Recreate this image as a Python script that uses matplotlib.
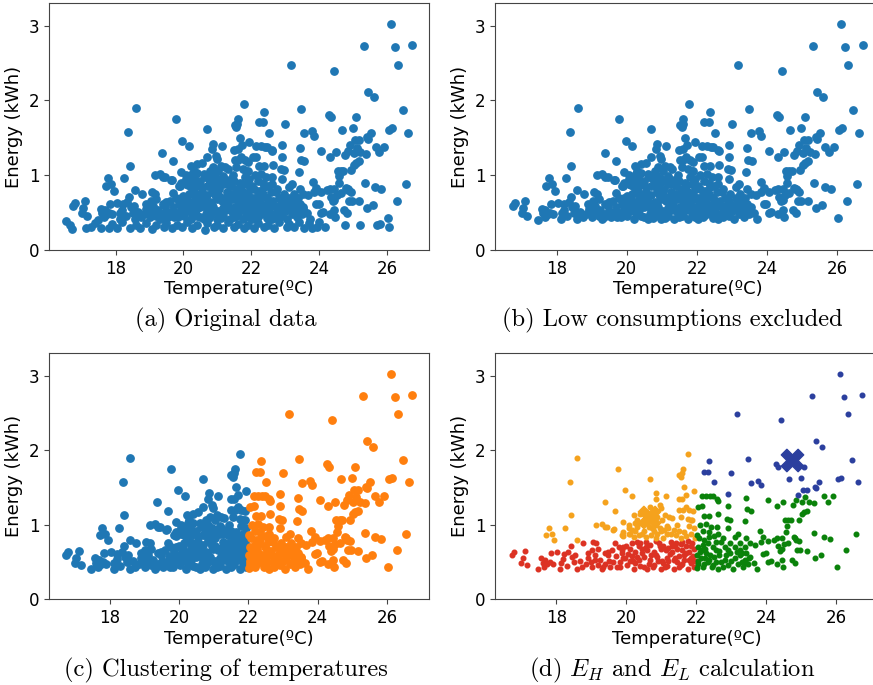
"""
Four scatter panels of daily energy use against mean temperature:
raw data, low consumptions removed, temperature clustering and
the high / low energy clusters with their centroids.
"""
import matplotlib

matplotlib.use("Agg")
from matplotlib import pyplot as plt

# Points with energy below the exclusion limit (only drawn in panel a)
EXCLUDED_TEMP = [
    16.55, 16.65, 16.72, 17.13, 17.28, 17.57, 17.80, 18.05, 18.44, 18.73,
    19.08, 19.42, 19.67, 19.96, 20.26, 20.62, 20.90, 21.15, 21.49, 21.78,
    22.07, 22.37, 22.66, 23.06, 23.25, 23.54, 23.79, 23.94, 24.18, 24.77,
    25.21, 25.70, 25.80, 26.05, 17.40, 17.90, 18.20, 18.60, 18.90, 19.20,
    19.50, 19.80, 20.10, 20.40, 20.70, 21.00, 21.30, 21.60, 21.90, 22.20,
    22.50, 22.80, 23.10, 23.40, 23.70, 24.00,
]
EXCLUDED_ENERGY = [
    0.39, 0.33, 0.28, 0.29, 0.31, 0.29, 0.29, 0.29, 0.29, 0.29,
    0.28, 0.31, 0.29, 0.31, 0.29, 0.27, 0.31, 0.29, 0.31, 0.29,
    0.29, 0.31, 0.29, 0.31, 0.31, 0.29, 0.29, 0.31, 0.31, 0.33,
    0.33, 0.33, 0.35, 0.31, 0.36, 0.35, 0.37, 0.34, 0.36, 0.33,
    0.36, 0.34, 0.37, 0.34, 0.36, 0.33, 0.37, 0.35, 0.33, 0.36,
    0.34, 0.37, 0.35, 0.38, 0.36, 0.38,
]

# Cold days (< 22 ºC), low energy cluster
COLD_LOW_TEMP = [
    16.75, 16.80, 17.00, 17.11, 17.16, 17.04, 17.47, 17.57, 17.61, 17.68,
    17.74, 17.66, 17.81, 17.85, 17.90, 18.03, 18.14, 18.12, 18.22, 18.35,
    18.41, 18.45, 18.53, 18.58, 18.67, 18.74, 18.84, 18.91, 18.77, 19.06,
    19.15, 19.03, 19.10, 19.10, 19.20, 19.01, 19.30, 19.25, 19.39, 19.47,
    19.54, 19.63, 19.73, 19.83, 19.92, 19.39, 19.49, 19.68, 19.78, 19.87,
    19.92, 18.30, 18.50, 18.90, 19.20, 19.50, 19.70, 19.00, 18.20, 19.35,
    19.60, 20.31, 20.40, 20.55, 20.69, 20.93, 21.27, 21.41, 21.60, 21.75,
    21.89, 19.87, 20.11, 20.26, 20.45, 20.60, 20.79, 20.98, 21.13, 21.32,
    21.46, 21.60, 21.80, 21.94, 19.97, 20.16, 20.36, 20.50, 20.69, 20.88,
    21.03, 21.17, 21.36, 21.51, 21.65, 21.84, 21.96, 19.83, 20.02, 20.21,
    20.40, 20.60, 20.79, 20.98, 21.17, 21.36, 21.56, 21.75, 21.94, 20.05,
    20.25, 20.45, 20.65, 20.85, 21.05, 21.25, 21.45, 21.65, 21.85, 20.00,
    20.20, 20.55, 20.75, 20.95, 21.10, 21.30, 21.50, 21.70, 21.90, 20.15,
    20.35, 20.85, 21.05, 21.20, 21.40, 21.55, 21.70, 21.85, 20.70, 20.90,
    21.20, 21.40, 21.60, 21.80, 20.30, 20.50, 20.10,
]
COLD_LOW_ENERGY = [
    0.59, 0.63, 0.49, 0.65, 0.46, 0.56, 0.40, 0.55, 0.49, 0.53,
    0.48, 0.44, 0.50, 0.62, 0.48, 0.63, 0.49, 0.41, 0.61, 0.64,
    0.71, 0.57, 0.59, 0.41, 0.51, 0.44, 0.48, 0.55, 0.75, 0.77,
    0.75, 0.66, 0.59, 0.53, 0.46, 0.44, 0.41, 0.53, 0.48, 0.59,
    0.44, 0.50, 0.44, 0.50, 0.55, 0.62, 0.64, 0.76, 0.70, 0.62,
    0.70, 0.45, 0.50, 0.62, 0.68, 0.52, 0.58, 0.50, 0.54, 0.44,
    0.66, 0.77, 0.75, 0.77, 0.73, 0.75, 0.77, 0.75, 0.77, 0.78,
    0.75, 0.66, 0.68, 0.64, 0.68, 0.66, 0.64, 0.68, 0.66, 0.64,
    0.68, 0.66, 0.64, 0.68, 0.55, 0.58, 0.53, 0.57, 0.53, 0.57,
    0.52, 0.56, 0.53, 0.58, 0.53, 0.56, 0.52, 0.44, 0.46, 0.41,
    0.45, 0.41, 0.46, 0.41, 0.45, 0.41, 0.46, 0.41, 0.44, 0.61,
    0.49, 0.62, 0.48, 0.60, 0.49, 0.61, 0.50, 0.60, 0.49, 0.72,
    0.52, 0.70, 0.43, 0.71, 0.43, 0.72, 0.44, 0.71, 0.58, 0.75,
    0.72, 0.78, 0.72, 0.69, 0.71, 0.74, 0.62, 0.72, 0.60, 0.51,
    0.52, 0.56, 0.47, 0.53, 0.57, 0.44, 0.52,
]

# Cold days, high energy cluster
COLD_HIGH_TEMP = [
    18.60, 18.38, 18.42, 18.26, 17.79, 17.71, 17.87, 17.95, 18.58, 19.77,
    19.97, 20.16, 19.38, 19.69, 20.69, 20.86, 20.84, 21.13, 21.56, 21.59,
    21.51, 21.61, 21.77, 21.65, 21.94, 21.50, 21.71, 20.69, 20.98, 20.40,
    20.55, 20.95, 21.22, 21.30, 21.60, 21.51, 21.61, 21.80, 21.90, 21.85,
    20.22, 20.30, 20.40, 20.07, 20.12, 19.92, 19.63, 19.15, 19.30, 19.39,
    19.46, 19.66, 19.90, 20.26, 20.31, 20.79, 20.88, 21.03, 21.17, 21.70,
    21.56, 21.75, 21.89, 20.07, 20.16, 20.07, 20.64, 20.74, 20.79, 20.84,
    20.45, 20.55, 20.98, 21.08, 21.17, 20.88, 21.65, 21.85, 21.94, 21.27,
    21.41, 19.87, 19.92, 20.21, 20.36, 20.50, 20.60, 20.70, 20.95, 21.05,
    21.20, 21.35, 21.45, 21.55, 21.70, 21.80, 21.50, 20.25, 21.10, 20.85,
    21.95,
]
COLD_HIGH_ENERGY = [
    1.90, 1.58, 1.13, 0.96, 0.96, 0.86, 0.88, 0.79, 0.80, 1.75,
    1.46, 1.39, 1.30, 1.19, 1.62, 1.42, 1.35, 1.39, 1.64, 1.69,
    1.67, 1.75, 1.95, 1.50, 1.45, 1.34, 1.40, 1.24, 1.22, 1.15,
    1.17, 1.26, 1.11, 1.09, 1.35, 1.20, 1.20, 1.20, 1.18, 1.06,
    1.13, 1.06, 1.03, 1.00, 0.87, 1.04, 0.93, 1.00, 1.01, 0.97,
    0.97, 0.94, 0.85, 1.02, 0.97, 1.06, 1.11, 1.06, 0.99, 1.24,
    1.11, 1.08, 1.06, 0.95, 0.93, 0.88, 0.97, 0.95, 0.91, 1.00,
    0.88, 0.84, 0.91, 0.93, 0.88, 0.88, 0.90, 0.88, 0.95, 0.88,
    0.86, 0.86, 0.90, 0.84, 0.86, 0.92, 1.02, 0.86, 0.96, 0.82,
    0.95, 0.93, 1.00, 0.82, 0.85, 0.98, 0.92, 0.92, 1.13, 0.82,
    0.82,
]

# Hot days (>= 22 ºC), low energy cluster
HOT_LOW_TEMP = [
    22.15, 22.28, 22.39, 22.47, 22.60, 22.62, 22.06, 22.15, 22.21, 22.36,
    22.63, 22.29, 22.60, 22.90, 22.88, 22.97, 23.42, 23.46, 23.56, 23.40,
    23.20, 24.06, 24.30, 24.49, 24.76, 24.85, 25.10, 25.03, 25.21, 25.36,
    25.66, 25.77, 25.91, 24.54, 24.63, 24.71, 24.58, 24.94, 25.02, 25.08,
    25.16, 25.35, 25.64, 25.83, 26.56, 26.29, 26.03, 25.40, 25.57, 25.16,
    24.97, 24.87, 24.83, 24.92, 24.57, 23.82, 23.91, 23.84, 23.67, 24.06,
    24.22, 24.30, 24.44, 24.63, 24.51, 24.34, 24.44, 24.39, 24.78, 24.85,
    23.43, 23.43, 23.51, 23.43, 23.64, 23.72, 23.91, 23.98, 24.06, 24.12,
    24.30, 24.44, 24.47, 24.73, 24.81, 22.42, 22.61, 22.90, 23.10, 23.24,
    22.02, 22.09, 22.23, 22.37, 22.04, 22.18, 22.33, 22.47, 22.57, 22.71,
    22.81, 22.95, 23.10, 23.24, 23.38, 23.53, 22.02, 22.13, 22.28, 22.37,
    22.52, 22.66, 22.81, 22.95, 23.10, 23.24, 23.38, 23.53, 22.04, 22.18,
    22.33, 22.47, 22.61, 22.71, 22.90, 23.05, 23.19, 23.34, 23.48, 22.05,
    22.10, 22.22, 22.40, 22.45, 22.55, 22.75, 22.85, 23.00, 23.15, 23.30,
    22.02, 22.25, 22.65, 22.10, 22.20, 22.35, 22.50, 22.75, 22.15, 22.55,
    22.90, 23.30, 22.25,
]
HOT_LOW_ENERGY = [
    1.39, 1.39, 1.38, 1.38, 1.34, 1.32, 1.24, 1.25, 1.12, 1.12,
    1.14, 1.01, 0.97, 1.25, 1.08, 1.07, 1.36, 1.21, 1.19, 1.05,
    0.88, 1.33, 1.25, 1.31, 1.27, 1.33, 1.37, 1.30, 1.31, 1.29,
    1.38, 1.31, 1.38, 1.06, 1.06, 1.06, 0.99, 1.07, 1.14, 1.17,
    1.19, 0.89, 0.84, 0.81, 0.88, 0.66, 0.43, 0.56, 0.60, 0.65,
    0.66, 0.66, 0.82, 0.78, 0.90, 0.91, 0.83, 0.77, 0.73, 0.78,
    0.80, 0.82, 0.82, 0.76, 0.74, 0.71, 0.67, 0.65, 0.83, 0.80,
    0.82, 0.62, 0.55, 0.49, 0.49, 0.41, 0.61, 0.62, 0.50, 0.51,
    0.48, 0.53, 0.44, 0.53, 0.49, 0.97, 0.88, 0.95, 0.84, 0.75,
    0.86, 0.82, 0.79, 0.84, 0.70, 0.73, 0.75, 0.70, 0.77, 0.77,
    0.70, 0.75, 0.70, 0.66, 0.70, 0.75, 0.59, 0.55, 0.62, 0.53,
    0.57, 0.59, 0.53, 0.62, 0.55, 0.59, 0.53, 0.57, 0.48, 0.44,
    0.50, 0.46, 0.41, 0.50, 0.46, 0.41, 0.48, 0.44, 0.48, 0.52,
    0.64, 0.47, 0.60, 0.43, 0.50, 0.44, 0.60, 0.52, 0.63, 0.50,
    0.42, 0.56, 0.65, 1.00, 0.92, 0.90, 0.85, 0.82, 0.66, 0.66,
    0.66, 0.62, 0.68,
]

# Hot days, high energy cluster
HOT_HIGH_TEMP = [
    26.10, 25.31, 26.22, 26.72, 26.32, 23.17, 24.42, 25.43, 25.60, 23.47,
    26.45, 22.37, 24.28, 24.33, 25.08, 22.21, 22.34, 23.00, 24.66, 24.98,
    26.06, 26.14, 22.52, 23.55, 23.77, 23.84, 25.51, 25.40, 25.42, 26.62,
    25.05, 25.17, 22.90, 24.90,
]
HOT_HIGH_ENERGY = [
    3.02, 2.73, 2.71, 2.74, 2.48, 2.48, 2.40, 2.12, 2.04, 1.88,
    1.87, 1.85, 1.81, 1.78, 1.78, 1.71, 1.71, 1.69, 1.61, 1.63,
    1.61, 1.63, 1.57, 1.56, 1.59, 1.53, 1.57, 1.51, 1.49, 1.57,
    1.47, 1.47, 1.41, 1.40,
]

# Cluster centroids shown in panel d (E_L cold, E_H hot)
CENTROID_COLD = (20.65, 1.10)
CENTROID_HOT = (24.72, 1.87)

CAPTIONS = [
    "(a) Original data",
    "(b) Low consumptions excluded",
    "(c) Clustering of temperatures",
    "(d) $E_H$ and $E_L$ calculation",
]

W, H = 873, 685

plt.rcParams["mathtext.fontset"] = "cm"
plt.rcParams["axes.edgecolor"] = "#444444"
plt.rcParams["xtick.color"] = "#444444"
plt.rcParams["ytick.color"] = "#444444"
plt.rcParams["xtick.labelcolor"] = "black"
plt.rcParams["ytick.labelcolor"] = "black"


def px_box(left, top, right, bottom):
    return [left / W, 1 - bottom / H, (right - left) / W, (bottom - top) / H]


def format_axis(ax):
    ax.set_ylim(0, 3.3)
    ax.set_yticks([0, 1, 2, 3])
    ax.set_xticks([18, 20, 22, 24, 26])
    ax.tick_params(labelsize=12)
    ax.set_xlabel("Temperature(ºC)", fontsize=13, labelpad=2)
    ax.set_ylabel("Energy (kWh)", fontsize=13, labelpad=4)


fig = plt.figure(figsize=(W / 100, H / 100), dpi=100)

ax_a = fig.add_axes(px_box(49, 3.3, 429, 250))
ax_b = fig.add_axes(px_box(495.3, 3.3, 880, 250))
ax_c = fig.add_axes(px_box(49, 353.3, 429.3, 599.3))
ax_d = fig.add_axes(px_box(495, 353.3, 879, 599.3))

cold_t = COLD_LOW_TEMP + COLD_HIGH_TEMP
cold_e = COLD_LOW_ENERGY + COLD_HIGH_ENERGY
hot_t = HOT_LOW_TEMP + HOT_HIGH_TEMP
hot_e = HOT_LOW_ENERGY + HOT_HIGH_ENERGY

# (a) everything
ax_a.scatter(cold_t + hot_t + EXCLUDED_TEMP, cold_e + hot_e + EXCLUDED_ENERGY,
             s=28, color="#1f77b4")

# (b) low consumptions removed
ax_b.scatter(cold_t + hot_t, cold_e + hot_e, s=28, color="#1f77b4")

# (c) temperature clusters
ax_c.scatter(cold_t, cold_e, s=28, color="#1f77b4")
ax_c.scatter(hot_t, hot_e, s=28, color="#ff7f0e")

# (d) energy clusters + centroids
ax_d.scatter(COLD_LOW_TEMP, COLD_LOW_ENERGY, s=11, color="#dc3223")
ax_d.scatter(COLD_HIGH_TEMP, COLD_HIGH_ENERGY, s=11, color="#f5a21d")
ax_d.scatter(HOT_LOW_TEMP, HOT_LOW_ENERGY, s=11, color="#0a820a")
ax_d.scatter(HOT_HIGH_TEMP, HOT_HIGH_ENERGY, s=11, color="#2b3f9e")
ax_d.scatter([CENTROID_COLD[0]], [CENTROID_COLD[1]], s=260, marker="X",
             color="#f5a21d")
ax_d.scatter([CENTROID_HOT[0]], [CENTROID_HOT[1]], s=260, marker="X",
             color="#2b3f9e")

for ax in [ax_a, ax_b, ax_c, ax_d]:
    format_axis(ax)

# Sub-figure captions
caption_pos = [(226, 320), (672, 320), (226, 670), (672, 670)]
for (cx, cy), text in zip(caption_pos, CAPTIONS):
    fig.text(cx / W, 1 - cy / H, text, fontsize=17.6, family="cmr10",
             ha="center", va="center")

plt.savefig("out.png", dpi=100)
